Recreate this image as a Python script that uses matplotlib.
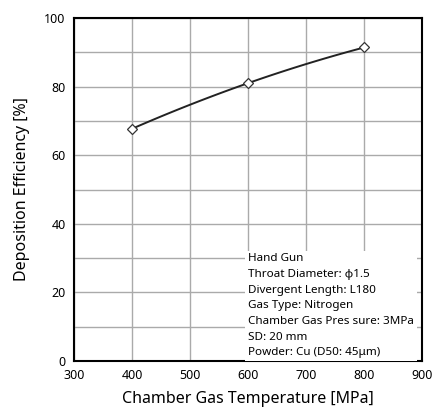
import numpy as np
import matplotlib.pyplot as plt
from matplotlib.ticker import MultipleLocator

temperature = [400, 600, 800]
efficiency = [67.7, 81.0, 91.4]

conditions = [
    'Hand Gun',
    'Throat Diameter: \u03d51.5',
    'Divergent Length: L180',
    'Gas Type: Nitrogen',
    'Chamber Gas Pres sure: 3MPa',
    'SD: 20 mm',
    'Powder: Cu (D50: 45\u03bcm)',
]

plt.rcParams['font.family'] = ['Noto Sans', 'DejaVu Sans']

fig = plt.figure(figsize=(4.33, 4.13), dpi=100)
ax = fig.add_axes([74 / 433, 52 / 413, 348 / 433, 343 / 413])

# smooth quadratic through the three measured points
coef = np.polyfit(temperature, efficiency, 2)
xs = np.linspace(temperature[0], temperature[-1], 100)
ax.plot(xs, np.polyval(coef, xs), color='#222222', lw=1.4, zorder=3)
ax.plot(temperature, efficiency, ls='none', marker='D', ms=5,
        mfc='white', mec='#333333', mew=0.9, zorder=4)

ax.set_xlim(300, 900)
ax.set_ylim(0, 100)
ax.xaxis.set_major_locator(MultipleLocator(100))
ax.yaxis.set_major_locator(MultipleLocator(20))
ax.yaxis.set_minor_locator(MultipleLocator(10))
ax.grid(True, which='both', color='#aaaaaa', lw=1.0)
ax.set_axisbelow(True)
ax.tick_params(which='both', length=0, labelsize=9, pad=6)
for s in ax.spines.values():
    s.set_linewidth(1.5)

ax.set_xlabel('Chamber Gas Temperature [MPa]', fontsize=11.5, labelpad=6)
ax.set_ylabel('Deposition Efficiency [%]', fontsize=11.5, labelpad=10)

# white panel listing the spray conditions in the lower right
ax.text(0.5, 0.008, '\n'.join(conditions), transform=ax.transAxes,
        fontsize=8.4, va='bottom', ha='left', linespacing=1.58,
        bbox=dict(facecolor='white', edgecolor='none', pad=2.0), zorder=5)

fig.savefig('out.png', dpi=100)
